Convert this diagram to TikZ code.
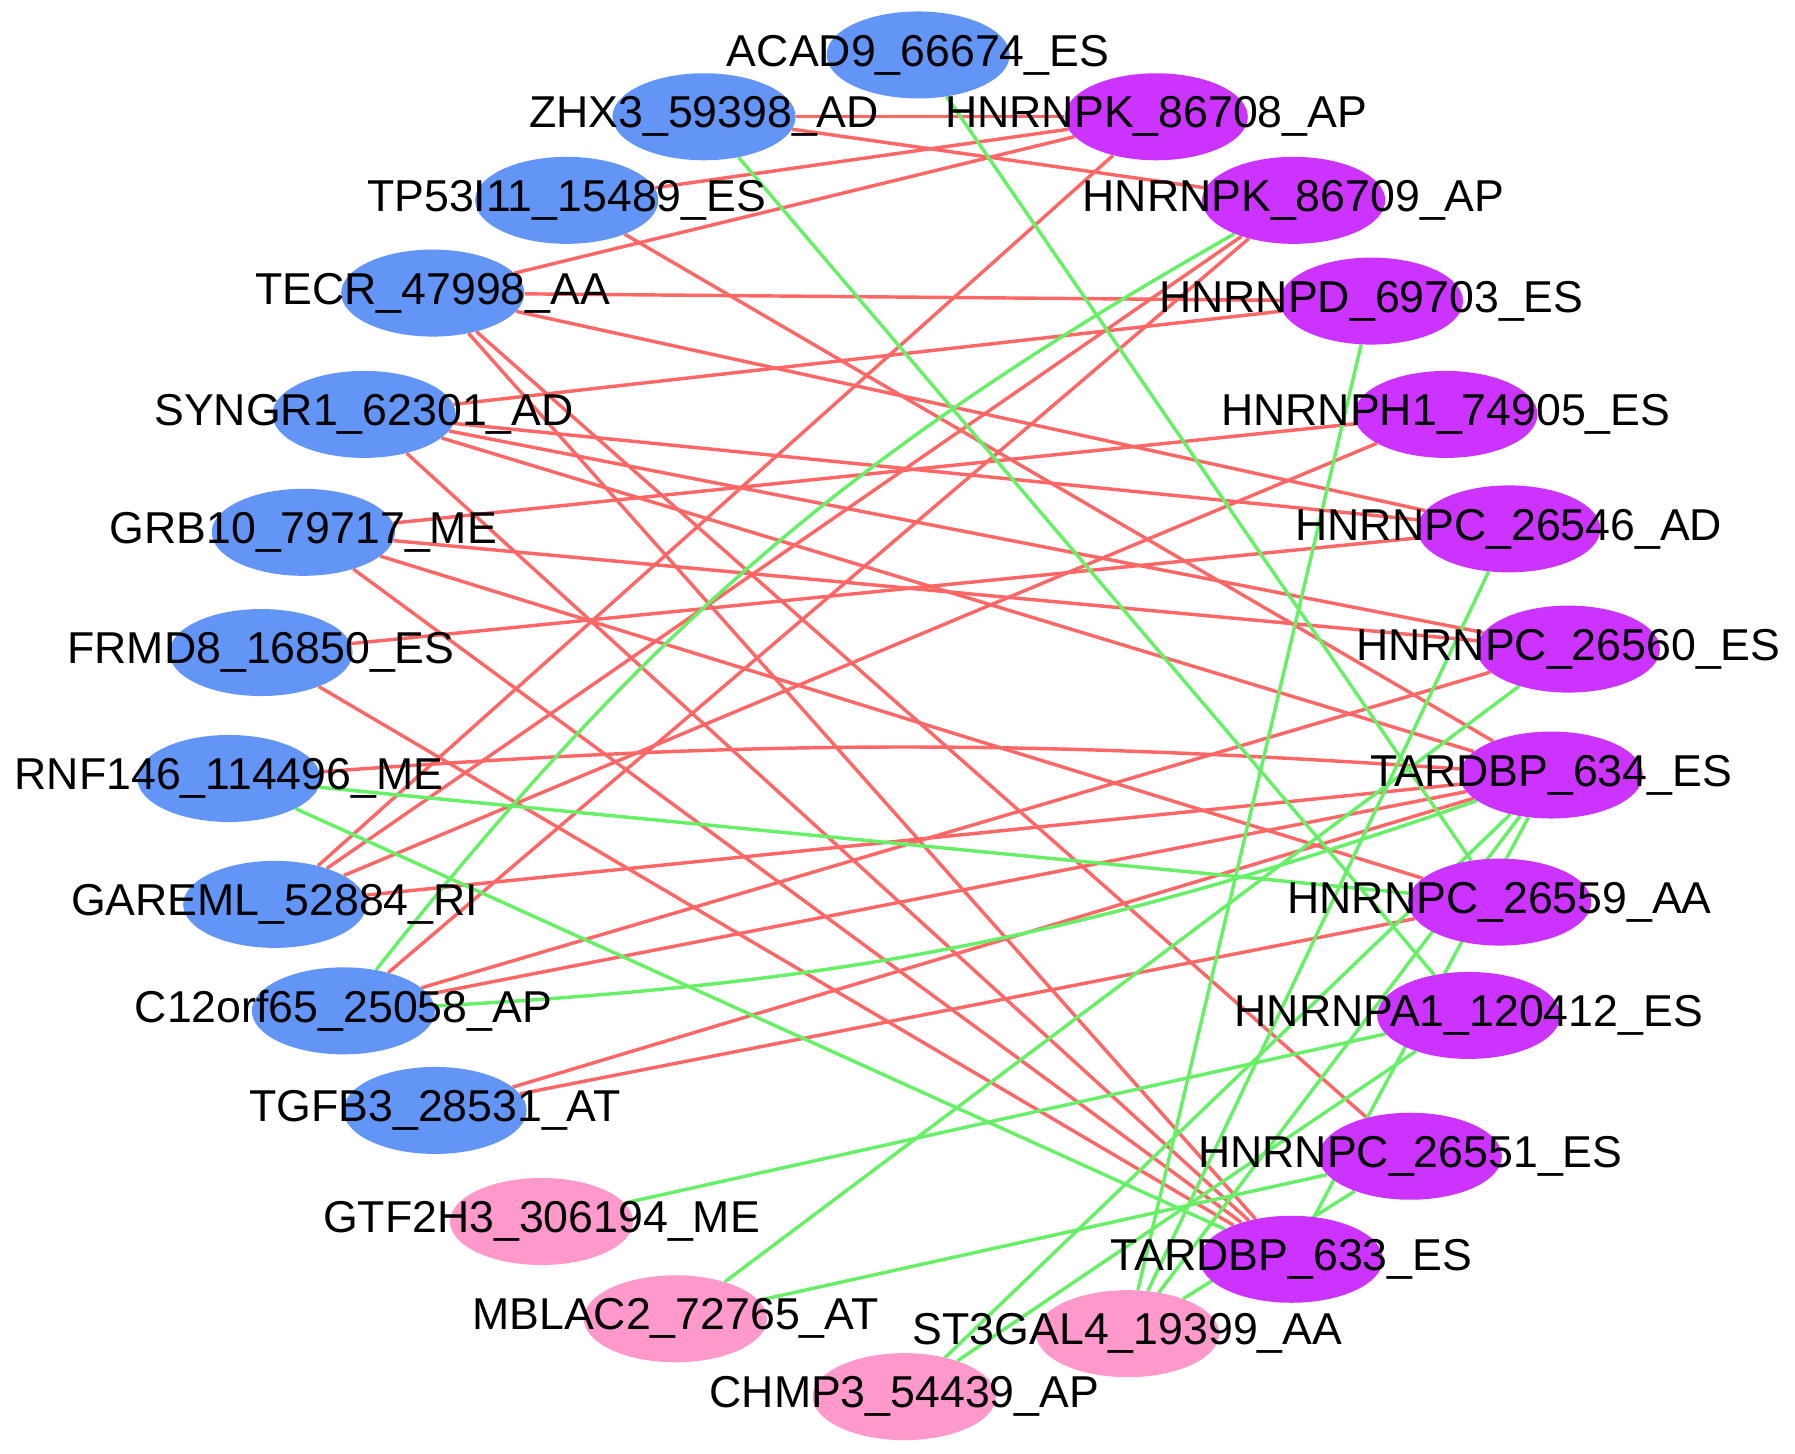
\documentclass[tikz,border=0pt]{standalone}
\usepackage{fontspec}
\setmainfont{Liberation Sans}
\usetikzlibrary{shapes.geometric,backgrounds}
\definecolor{evblue}{RGB}{99,149,247}
\definecolor{evpink}{RGB}{255,153,204}
\definecolor{sfpurple}{RGB}{204,51,255}
\definecolor{posred}{RGB}{255,102,102}
\definecolor{neggreen}{RGB}{102,240,102}

\begin{document}
\begin{tikzpicture}[x=1pt,y=-1pt,
    gene/.style={ellipse,minimum width=160pt,minimum height=76pt,inner sep=0pt},
    ev/.style={gene,fill=evblue},
    pk/.style={gene,fill=evpink},
    sf/.style={gene,fill=sfpurple},
    lbl/.style={font=\fontsize{39}{39}\selectfont,text=black,inner sep=0pt},
    posedge/.style={draw=posred,line width=3pt},
    negedge/.style={draw=neggreen,line width=3pt}]
  \useasboundingbox (0,0) rectangle (1568,1270);
  \foreach \n/\x/\y/\s/\t in {
      acad/802/48/ev/ACAD9\_66674\_ES,
      zhx/615/102/ev/ZHX3\_59398\_AD,
      tp53/495/175/ev/TP53I11\_15489\_ES,
      tecr/378/256/ev/TECR\_47998\_AA,
      syngr/318/362/ev/SYNGR1\_62301\_AD,
      grb/265/465/ev/GRB10\_79717\_ME,
      frmd/228/570/ev/FRMD8\_16850\_ES,
      rnf/200/680/ev/RNF146\_114496\_ME,
      gareml/240/790/ev/GAREML\_52884\_RI,
      c12/300/883/ev/C12orf65\_25058\_AP,
      tgfb/380/970/ev/TGFB3\_28531\_AT,
      gtf/473/1067/pk/GTF2H3\_306194\_ME,
      mblac/590/1152/pk/MBLAC2\_72765\_AT,
      chmp/790/1220/pk/CHMP3\_54439\_AP,
      st3gal/985/1165/pk/ST3GAL4\_19399\_AA,
      tdp633/1128/1100/sf/TARDBP\_633\_ES,
      c26551/1232/1010/sf/HNRNPC\_26551\_ES,
      a1/1283/887/sf/HNRNPA1\_120412\_ES,
      c26559/1310/788/sf/HNRNPC\_26559\_AA,
      tdp634/1355/677/sf/TARDBP\_634\_ES,
      c26560/1370/567/sf/HNRNPC\_26560\_ES,
      c26546/1318/462/sf/HNRNPC\_26546\_AD,
      h1/1263/362/sf/HNRNPH1\_74905\_ES,
      d69703/1198/263/sf/HNRNPD\_69703\_ES,
      k86709/1130/175/sf/HNRNPK\_86709\_AP,
      k86708/1010/102/sf/HNRNPK\_86708\_AP}
    \node[\s,label={[lbl,name=\n-t]center:\t}] (\n) at (\x,\y) {};

  \begin{scope}[on background layer]
    % positive
    \draw[posedge] (zhx) -- (k86708);
    \draw[posedge] (zhx) -- (k86709);
    \draw[posedge] (tp53) -- (k86708);
    \draw[posedge] (tp53) -- (tdp634);
    \draw[posedge] (tecr) -- (k86708);
    \draw[posedge] (tecr) -- (d69703);
    \draw[posedge] (tecr) -- (c26546);
    \draw[posedge] (tecr) -- (c26551);
    \draw[posedge] (tecr) -- (tdp633);
    \draw[posedge] (syngr) -- (d69703);
    \draw[posedge] (syngr) -- (c26546);
    \draw[posedge] (syngr) -- (c26560);
    \draw[posedge] (syngr) -- (tdp634);
    \draw[posedge] (syngr) -- (tdp633);
    \draw[posedge] (grb) -- (h1);
    \draw[posedge] (grb) -- (c26560);
    \draw[posedge] (grb) -- (c26559);
    \draw[posedge] (grb) -- (tdp633);
    \draw[posedge] (frmd) -- (c26546);
    \draw[posedge] (frmd) -- (tdp633);
    \draw[posedge] (rnf) to[bend left=4] (tdp634);
    \draw[posedge] (gareml) -- (k86708);
    \draw[posedge] (gareml) -- (k86709);
    \draw[posedge] (gareml) -- (h1);
    \draw[posedge] (gareml) -- (tdp634);
    \draw[posedge] (c12) -- (k86709);
    \draw[posedge] (c12) -- (c26560);
    \draw[posedge] (c12) -- (tdp634);
    \draw[posedge] (tgfb) -- (tdp634);
    \draw[posedge] (tgfb) -- (c26559);
    % negative
    \draw[negedge] (acad) -- (c26559);
    \draw[negedge] (zhx) -- (a1);
    \draw[negedge] (c12) to[bend left=11] (k86709);
    \draw[negedge] (c12) to[bend right=8] (tdp634);
    \draw[negedge] (rnf) -- (c26559);
    \draw[negedge] (rnf) -- (tdp633);
    \draw[negedge] (d69703) -- (st3gal);
    \draw[negedge] (c26546) -- (st3gal);
    \draw[negedge] (c26551) -- (st3gal);
    \draw[negedge] (c26551) -- (mblac);
    \draw[negedge] (c26560) -- (mblac);
    \draw[negedge] (a1) -- (gtf);
    \draw[negedge] (chmp) -- (tdp634);
    \draw[negedge] (chmp) -- (a1);
    \draw[negedge] (st3gal) -- (tdp634);
    \draw[negedge] (tdp633) -- (tdp634);
  \end{scope}
\end{tikzpicture}
\end{document}
